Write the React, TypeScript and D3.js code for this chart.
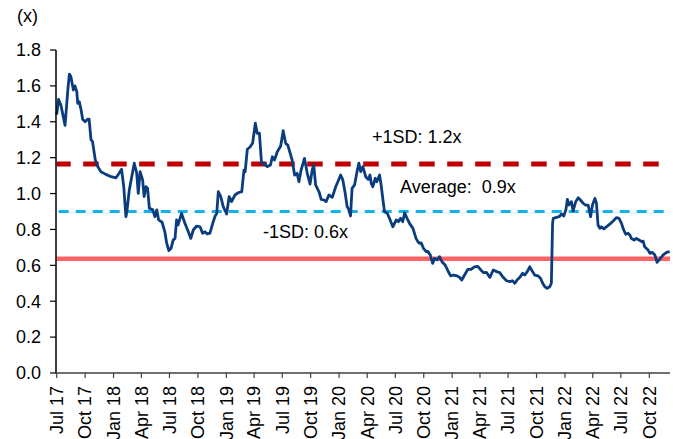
import React from "react";
import * as d3 from "d3";

const dates: string[] = [
"2017-07-01","2017-07-07","2017-07-15","2017-07-28","2017-08-06","2017-08-11","2017-08-16","2017-08-24","2017-08-29","2017-09-04",
"2017-09-07","2017-09-12","2017-09-18","2017-09-23","2017-10-01","2017-10-09","2017-10-14","2017-10-20","2017-10-25","2017-10-29",
"2017-11-03","2017-11-11","2017-11-21","2017-12-07","2017-12-24","2018-01-09","2018-01-19","2018-01-27","2018-02-03","2018-02-10",
"2018-02-13","2018-02-21","2018-03-09","2018-03-17","2018-03-22","2018-03-28","2018-04-05","2018-04-10","2018-04-16","2018-04-21",
"2018-04-27","2018-05-08","2018-05-15","2018-05-21","2018-05-27","2018-06-07","2018-06-16","2018-06-22","2018-06-29","2018-07-06",
"2018-07-13","2018-07-19","2018-07-24","2018-07-29","2018-08-09","2018-08-20","2018-08-31","2018-09-08","2018-09-16","2018-09-27",
"2018-10-08","2018-10-16","2018-10-24","2018-10-31","2018-11-09","2018-11-18","2018-11-25","2018-12-01","2018-12-06","2018-12-14",
"2018-12-22","2019-01-02","2019-01-10","2019-01-18","2019-01-29","2019-02-09","2019-02-20","2019-02-27","2019-03-03","2019-03-10",
"2019-03-18","2019-03-27","2019-04-05","2019-04-11","2019-04-18","2019-04-25","2019-05-03","2019-05-13","2019-05-24","2019-05-30",
"2019-06-06","2019-06-15","2019-06-26","2019-07-04","2019-07-12","2019-07-19","2019-08-02","2019-08-10","2019-08-18","2019-08-24",
"2019-08-31","2019-09-11","2019-09-20","2019-09-29","2019-10-06","2019-10-11","2019-10-17","2019-10-28","2019-11-04","2019-11-13",
"2019-11-20","2019-11-29","2019-12-10","2019-12-21","2019-12-28","2020-01-06","2020-01-13","2020-01-20","2020-01-27","2020-02-02",
"2020-02-07","2020-02-12","2020-02-20","2020-02-28","2020-03-05","2020-03-11","2020-03-18","2020-03-27","2020-04-04","2020-04-10",
"2020-04-14","2020-04-19","2020-04-27","2020-05-02","2020-05-11","2020-05-16","2020-05-22","2020-05-27","2020-06-05","2020-06-12",
"2020-06-23","2020-07-04","2020-07-11","2020-07-18","2020-07-25","2020-07-31","2020-08-08","2020-08-16","2020-08-27","2020-09-06",
"2020-09-12","2020-09-17","2020-09-23","2020-09-30","2020-10-09","2020-10-14","2020-10-22","2020-10-30","2020-11-05","2020-11-13",
"2020-11-21","2020-11-29","2020-12-09","2020-12-18","2020-12-27","2021-01-06","2021-01-17","2021-01-25","2021-02-01","2021-02-10",
"2021-02-21","2021-03-03","2021-03-14","2021-03-25","2021-04-06","2021-04-13","2021-04-22","2021-05-03","2021-05-14","2021-05-25",
"2021-06-04","2021-06-15","2021-06-26","2021-07-07","2021-07-15","2021-07-23","2021-07-30","2021-08-08","2021-08-17","2021-08-24",
"2021-09-01","2021-09-09","2021-09-18","2021-09-25","2021-10-06","2021-10-14","2021-10-20","2021-10-28","2021-11-04","2021-11-13",
"2021-11-18","2021-11-22","2021-11-24","2021-12-02","2021-12-13","2021-12-21","2021-12-28","2022-01-04","2022-01-09","2022-01-14",
"2022-01-22","2022-01-27","2022-02-05","2022-02-13","2022-02-20","2022-03-01","2022-03-08","2022-03-17","2022-03-25","2022-03-31",
"2022-04-08","2022-04-13","2022-04-18","2022-04-24","2022-04-29","2022-05-07","2022-05-15","2022-05-26","2022-06-06","2022-06-17",
"2022-06-25","2022-07-03","2022-07-10","2022-07-17","2022-07-24","2022-07-30","2022-08-04","2022-08-13","2022-08-20","2022-08-29",
"2022-09-06","2022-09-11","2022-09-16","2022-09-27","2022-10-03","2022-10-11","2022-10-19","2022-10-26","2022-11-04","2022-11-15",
"2022-11-26","2022-12-06"
];

const values: number[] = [
1.44,1.525,1.49,1.38,1.577,1.666,1.651,1.577,1.60,1.568,
1.503,1.512,1.466,1.414,1.40,1.414,1.414,1.30,1.289,1.243,
1.187,1.15,1.122,1.107,1.094,1.088,1.113,1.135,1.038,0.871,
0.899,1.02,1.169,1.113,1.001,1.122,1.076,0.983,1.038,1.03,
0.918,0.909,0.871,0.909,0.853,0.84,0.787,0.723,0.682,0.695,
0.741,0.75,0.853,0.825,0.89,0.834,0.787,0.75,0.797,0.819,
0.815,0.779,0.787,0.775,0.779,0.834,0.871,0.89,1.01,0.983,
0.927,0.886,0.983,0.955,0.992,1.005,1.01,1.131,1.122,1.247,
1.258,1.28,1.392,1.336,1.336,1.169,1.169,1.15,1.159,1.205,
1.187,1.233,1.265,1.35,1.28,1.27,1.187,1.103,1.113,1.066,
1.131,1.196,1.113,1.053,1.131,1.159,1.048,1.01,0.968,0.964,
0.955,0.992,0.979,1.038,1.066,1.103,1.076,1.01,0.927,0.909,
0.875,1.029,1.048,1.122,1.169,1.122,1.15,1.094,1.079,1.103,
1.057,1.038,1.085,1.066,1.103,1.048,0.964,0.899,0.89,0.862,
0.815,0.853,0.843,0.862,0.843,0.893,0.862,0.834,0.806,0.75,
0.732,0.723,0.725,0.695,0.676,0.678,0.658,0.611,0.639,0.63,
0.648,0.62,0.602,0.57,0.541,0.546,0.541,0.533,0.518,0.546,
0.578,0.578,0.592,0.594,0.57,0.559,0.56,0.533,0.574,0.565,
0.559,0.533,0.514,0.509,0.514,0.5,0.518,0.533,0.556,0.546,
0.565,0.592,0.565,0.546,0.541,0.528,0.503,0.481,0.472,0.481,
0.5,0.834,0.862,0.866,0.871,0.886,0.875,0.909,0.968,0.936,
0.955,0.902,0.955,0.977,0.964,0.946,0.936,0.936,0.871,0.936,
0.973,0.946,0.825,0.806,0.815,0.803,0.815,0.829,0.847,0.866,
0.862,0.834,0.797,0.773,0.779,0.769,0.75,0.741,0.75,0.741,
0.732,0.735,0.704,0.685,0.667,0.672,0.658,0.617,0.635,0.658,
0.672,0.676
];

const xTickLabels: string[] = [
"Jul 17","Oct 17","Jan 18","Apr 18","Jul 18","Oct 18","Jan 19","Apr 19","Jul 19","Oct 19","Jan 20",
"Apr 20","Jul 20","Oct 20","Jan 21","Apr 21","Jul 21","Oct 21","Jan 22","Apr 22","Jul 22","Oct 22"
];
const yTicks: number[] = [0, 0.2, 0.4, 0.6, 0.8, 1.0, 1.2, 1.4, 1.6, 1.8];

const plusSD = 1.165;
const average = 0.9;
const minusSD = 0.637;
const plusLabel = "+1SD: 1.2x";
const avgLabel = "Average:  0.9x";
const minusLabel = "-1SD: 0.6x";
const unitLabel = "(x)";
const domainStart = "2017-07-01";
const domainEnd = "2022-12-07";

const W = 673, H = 439;
const FONT = "'Liberation Sans', Arial, Helvetica, sans-serif";

export default function App() {
  React.useEffect(() => {
    document.body.style.margin = "0";
  }, []);
  const parse = d3.timeParse("%Y-%m-%d");
  const parseTick = d3.timeParse("%b %y");
  const x = d3.scaleTime()
    .domain([parse(domainStart) as Date, parse(domainEnd) as Date])
    .range([56.7, 670]);
  const y = d3.scaleLinear().domain([0, 1.8]).range([373, 50]);
  const data = dates.map((d, i) => ({ d: parse(d) as Date, v: values[i] }));
  const line = d3.line<{ d: Date; v: number }>().x(p => x(p.d)).y(p => y(p.v));
  const x0 = x.range()[0];
  const x1 = x.range()[1];
  const fs = 18;
  return (
    <svg width={W} height={H} style={{ position: "absolute", left: 0, top: 0, display: "block" }} fontFamily={FONT}>
      <rect width={W} height={H} fill="#fff" />
      <line x1={x0} x2={x1} y1={y(minusSD)} y2={y(minusSD)} stroke="#FF6464" strokeWidth={4.5} />
      <line x1={x0} x2={x1} y1={y(average)} y2={y(average)} stroke="#12B2EE" strokeWidth={3} strokeDasharray="10,7" strokeDashoffset={-2} />
      <line x1={x0} x2={x1} y1={y(plusSD)} y2={y(plusSD)} stroke="#C00000" strokeWidth={5} strokeDasharray="15.5,12.5" strokeDashoffset={1.5} />
      <path d={line(data) || ""} fill="none" stroke="#0B3D7E" strokeWidth={2.8} strokeLinejoin="round" />
      <line x1={56} x2={56} y1={50} y2={373} stroke="#000" strokeWidth={1.5} />
      <line x1={56} x2={x1} y1={373} y2={373} stroke="#404040" strokeWidth={1.5} />
      {yTicks.map(t => (
        <g key={t}>
          <line x1={50} x2={56} y1={y(t)} y2={y(t)} stroke="#000" strokeWidth={1.2} />
          <text x={41} y={y(t)} dy="0.35em" textAnchor="end" fontSize={fs} fill="#000">{t.toFixed(1)}</text>
        </g>
      ))}
      {xTickLabels.map(l => {
        const tx = x(parseTick(l) as Date);
        return (
          <g key={l}>
            <line x1={tx} x2={tx} y1={373} y2={378} stroke="#404040" strokeWidth={1.2} />
            <text transform={`translate(${tx},386) rotate(-90)`} dy="0.35em" textAnchor="end" fontSize={fs} fill="#000">{l}</text>
          </g>
        );
      })}
      <text x={17} y={21.5} fontSize={fs} fill="#000">{unitLabel}</text>
      <text x={372} y={143} fontSize={fs} fill="#000" style={{ whiteSpace: "pre" }}>{plusLabel}</text>
      <text x={400} y={193} fontSize={fs} fill="#000" style={{ whiteSpace: "pre" }}>{avgLabel}</text>
      <text x={263} y={238} fontSize={fs} fill="#000" style={{ whiteSpace: "pre" }}>{minusLabel}</text>
    </svg>
  );
}
